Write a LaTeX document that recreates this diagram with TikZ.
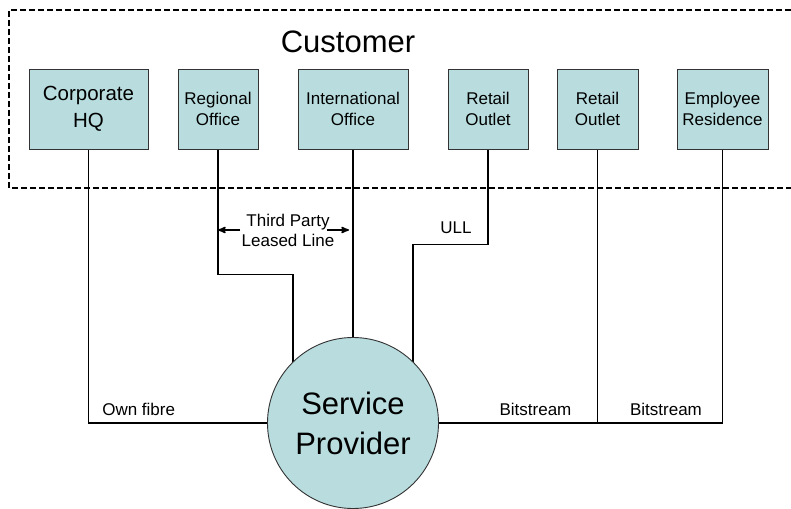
\documentclass[tikz,border=0pt]{standalone}
\usepackage{fontspec}
\setmainfont{Liberation Sans}
\usetikzlibrary{arrows, backgrounds}
\definecolor{sitefill}{RGB}{185,221,223}

\begin{document}
\begin{tikzpicture}[x=1pt, y=-1pt, >=stealth', semithick]

%====Definizione stili=======================================================

	\tikzstyle{site}=[draw=black!80, line width=0.9pt, fill=sitefill, minimum height=80pt, align=center, inner sep=2pt, font=\fontsize{17}{21}\selectfont]
	\tikzstyle{link}=[draw, line width=1.1pt]
	\tikzstyle{tag}=[inner sep=0pt, font=\fontsize{17}{20}\selectfont]

	\clip (0,0) rectangle (791,508);

%====Area cliente============================================================

	\draw[line width=1.5pt, dash pattern=on 6pt off 3pt] (800,10) -- (9,10) -- (9,188) -- (800,188);
	\node (cust) at (348,42) {\fontsize{31}{37}\selectfont Customer};

	\node[site, minimum width=119pt, font=\fontsize{20.5}{27}\selectfont] (hq) at (88.5,109) {Corporate\\HQ};
	\node[site, minimum width=80pt]   (reg)  at (218,109)   {Regional\\Office};
	\node[site, minimum width=110pt]  (intl) at (353,109)   {International\\Office};
	\node[site, minimum width=80pt]   (ret1) at (488,109)   {Retail\\Outlet};
	\node[site, minimum width=81pt]   (ret2) at (597.5,109) {Retail\\Outlet};
	\node[site, minimum width=91pt]   (res)  at (722.5,109) {Employee\\Residence};

%====Fornitore===============================================================

	\node[circle, draw=black!80, line width=0.9pt, fill=sitefill, minimum size=171pt, inner sep=0pt, align=center, font=\fontsize{31}{40}\selectfont] (sp) at (353,423) {Service\\Provider};

%====Collegamenti============================================================

	\begin{scope}[on background layer]
		\draw[link] (hq.south) |- (sp);
		\draw[link] (reg.south) -- ++(0,125) -| ([xshift=-60pt]sp.center);
		\draw[link] (intl.south) -- (sp);
		\draw[link] (ret1.south) -- ++(0,95) -| ([xshift=60pt]sp.center);
		\draw[link] (ret2.south) -- (ret2.south |- sp.center);
		\draw[link] (res.south) |- (sp);
	\end{scope}

%====Etichette===============================================================

	\node[tag, anchor=west] (own) at (102,409)   {Own fibre};
	\node[tag]              (bs1) at (535.5,409) {Bitstream};
	\node[tag]              (bs2) at (666,409)   {Bitstream};
	\node[tag]              (ull) at (456,228)   {ULL};
	\node[tag, align=center] (tpl) at (288,230)  {Third Party\\Leased Line};

	\draw[->, line width=1.6pt] ([xshift=-1pt]tpl.west) -- (tpl.west -| reg.south);
	\draw[->, line width=1.6pt] ([xshift=-8pt]tpl.east) -- ([xshift=-4pt]tpl.east -| intl.south);

\end{tikzpicture}
\end{document}
